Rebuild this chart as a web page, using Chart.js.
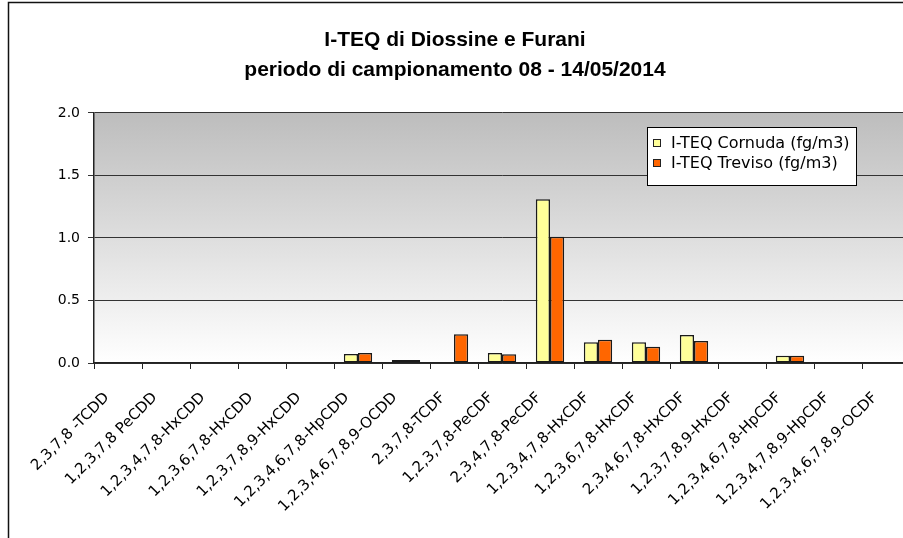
<!DOCTYPE html>
<html>
<head>
<meta charset="utf-8">
<script src="https://cdn.jsdelivr.net/npm/chart.js@4.4.1/dist/chart.umd.min.js"></script>
<style>
    html, body { margin: 0; padding: 0; overflow: hidden; background: #fff; }
    #wrap { width: 940px; height: 538px; }
</style>
</head>
<body>
<div id="wrap"><canvas id="teq" width="940" height="538"></canvas></div>
<script>
// congeneri e valori I-TEQ (fg/m3)
const congeneri = [
    "2,3,7,8 -TCDD",
    "1,2,3,7,8 PeCDD",
    "1,2,3,4,7,8-HxCDD",
    "1,2,3,6,7,8-HxCDD",
    "1,2,3,7,8,9-HxCDD",
    "1,2,3,4,6,7,8-HpCDD",
    "1,2,3,4,6,7,8,9-OCDD",
    "2,3,7,8-TCDF",
    "1,2,3,7,8-PeCDF",
    "2,3,4,7,8-PeCDF",
    "1,2,3,4,7,8-HxCDF",
    "1,2,3,6,7,8-HxCDF",
    "2,3,4,6,7,8-HxCDF",
    "1,2,3,7,8,9-HxCDF",
    "1,2,3,4,6,7,8-HpCDF",
    "1,2,3,4,7,8,9-HpCDF",
    "1,2,3,4,6,7,8,9-OCDF",
];
const cornuda = [0, 0, 0, 0, 0, 0.072, 0.024, 0, 0.08, 1.31, 0.165, 0.165, 0.224, 0, 0.058, 0, 0];
const treviso = [0, 0, 0, 0, 0, 0.08, 0.024, 0.23, 0.07, 1.01, 0.186, 0.13, 0.176, 0, 0.058, 0, 0];
const yTicks = [0, 0.5, 1.0, 1.5, 2.0];
const titolo = ["I-TEQ di Diossine e Furani", "periodo di campionamento 08 - 14/05/2014"];

// cornice esterna + sfondo sfumato dell'area del grafico
const sfondo = {
    id: "sfondo",
    beforeDraw(chart) {
        const { ctx, chartArea: a } = chart;
        ctx.save();
        ctx.strokeStyle = "#111";
        ctx.lineWidth = 1.5;
        ctx.strokeRect(8.5, 2.5, chart.width, chart.height);
        const g = ctx.createLinearGradient(0, a.top, 0, a.bottom);
        g.addColorStop(0, "#bdbdbd");
        g.addColorStop(1, "#ffffff");
        ctx.fillStyle = g;
        ctx.fillRect(a.left, a.top, a.right - a.left, a.bottom - a.top);
        ctx.restore();
    },
};

// legenda in un riquadro dentro l'area del grafico
const legenda = {
    id: "legenda",
    afterDatasetsDraw(chart) {
        const ctx = chart.ctx;
        ctx.save();
        ctx.fillStyle = "#fff";
        ctx.fillRect(647.5, 127.5, 209, 58);
        ctx.strokeStyle = "#000";
        ctx.lineWidth = 1;
        ctx.strokeRect(647.5, 127.5, 209, 58);
        ctx.font = '16px "DejaVu Sans"';
        ctx.textBaseline = "middle";
        chart.data.datasets.forEach((ds, i) => {
            const cy = 143 + i * 20;
            ctx.fillStyle = ds.backgroundColor;
            ctx.fillRect(653, cy - 4, 8, 8);
            ctx.strokeStyle = "#222";
            ctx.strokeRect(653.5, cy - 3.5, 7, 7);
            ctx.fillStyle = "#000";
            ctx.fillText(ds.label, 671, cy + 1);
        });
        ctx.restore();
    },
};

new Chart(document.getElementById("teq"), {
    type: "bar",
    data: {
        labels: congeneri,
        datasets: [
            {
                label: "I-TEQ Cornuda (fg/m3)",
                data: cornuda,
                backgroundColor: "#ffff99",
                borderColor: "#1a1a1a",
                borderWidth: 1.5,
                borderSkipped: false,
            },
            {
                label: "I-TEQ Treviso (fg/m3)",
                data: treviso,
                backgroundColor: "#ff6600",
                borderColor: "#1a1a1a",
                borderWidth: 1.5,
                borderSkipped: false,
            },
        ],
    },
    options: {
        responsive: false,
        animation: false,
        layout: { padding: { left: 0, right: 30, top: 0, bottom: 0 } },
        datasets: {
            bar: { categoryPercentage: 0.59, barPercentage: 1.0 },
        },
        plugins: {
            legend: { display: false },
            tooltip: { enabled: false },
            title: {
                display: true,
                text: titolo,
                color: "#000",
                font: { family: "Liberation Sans", size: 21, weight: "bold", lineHeight: 1.45 },
                padding: { top: 25, bottom: 27 },
            },
        },
        scales: {
            x: {
                grid: { offset: true, drawOnChartArea: false, drawTicks: true, tickLength: 6, color: "#222" },
                border: { color: "#222", width: 1.5 },
                ticks: {
                    autoSkip: false,
                    minRotation: 45,
                    maxRotation: 45,
                    color: "#000",
                    padding: 20,
                    labelOffset: -11,
                    font: { family: "DejaVu Sans", size: 15 },
                },
                afterFit(s) { s.height = 175; },
            },
            y: {
                min: 0,
                max: 2,
                afterBuildTicks(s) { s.ticks = yTicks.map((v) => ({ value: v })); },
                ticks: {
                    color: "#000",
                    padding: 8,
                    font: { family: "DejaVu Sans", size: 14 },
                    callback: (v) => v.toFixed(1),
                },
                grid: { color: "#333", tickLength: 6, lineWidth: 1 },
                border: { color: "#222", width: 1.5 },
                afterFit(s) { s.width = 94; },
            },
        },
    },
    plugins: [sfondo, legenda],
});
</script>
</body>
</html>
